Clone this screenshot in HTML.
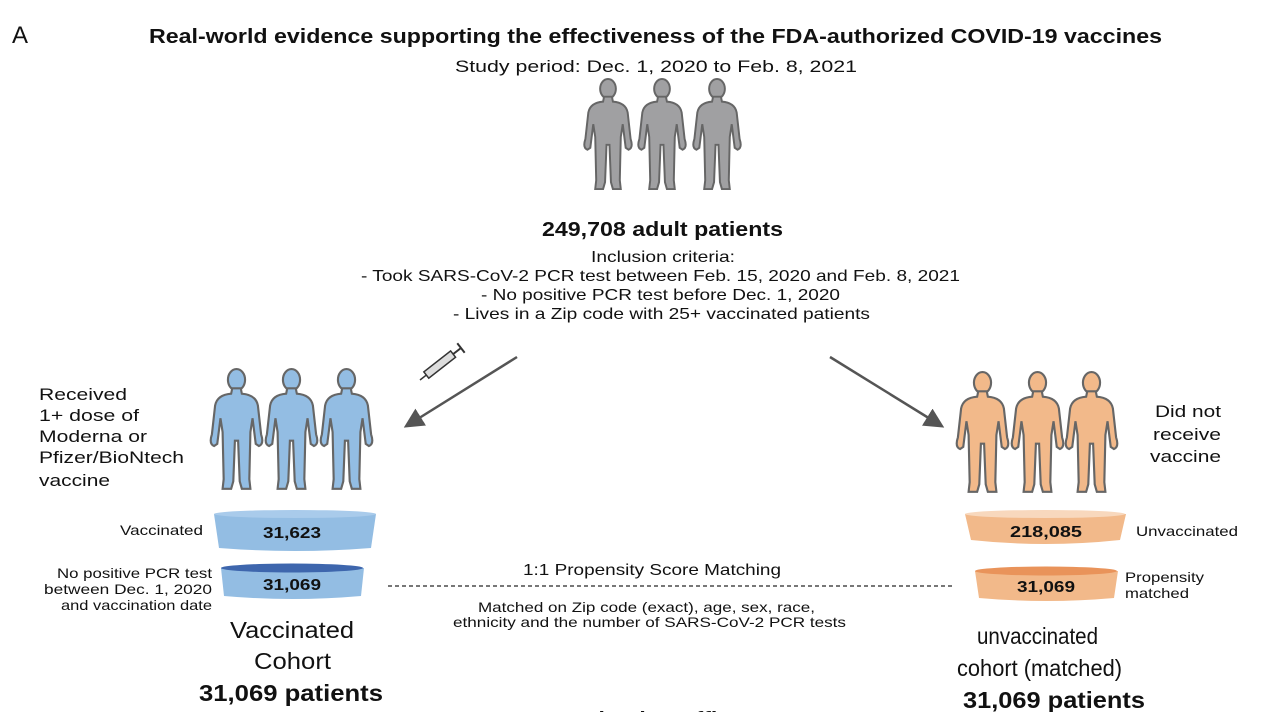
<!DOCTYPE html>
<html><head><meta charset="utf-8"><style>
body{margin:0;background:#fff;width:1275px;height:712px;overflow:hidden;font-family:"Liberation Sans",Arial,sans-serif}
text{font-family:"Liberation Sans",Arial,sans-serif;fill:#111}
</style></head><body>
<svg width="1275" height="712" viewBox="0 0 1275 712">
<defs>
<symbol id="person" viewBox="0 0 50 116">
<ellipse cx="25" cy="11" rx="8" ry="10"/>
<path d="M21,19 L29,19 L30,24 Q43,25 45,35 L48,62 Q51,71 46,73 L43,71 L40,47 L38,60 L37,104 L38,113 L30,113 L28,106 L26.5,68 L23.5,68 L22,106 L20,113 L12,113 L13,104 L12,60 L10,47 L7,71 L4,73 Q-1,71 2,62 L5,35 Q7,25 20,24 Z"/>
</symbol>
<marker id="ah" markerWidth="8" markerHeight="8" refX="6" refY="4" orient="auto"><path d="M0,0 L8,4 L0,8 Z" fill="#555"/></marker>
</defs>
<text x="12" y="43" font-size="24">A</text>
<text x="149" y="43" font-size="20" font-weight="bold" textLength="1013" lengthAdjust="spacingAndGlyphs">Real-world evidence supporting the effectiveness of the FDA-authorized COVID-19 vaccines</text>
<text x="455" y="72" font-size="17" textLength="402" lengthAdjust="spacingAndGlyphs">Study period: Dec. 1, 2020 to Feb. 8, 2021</text>
<g fill="#a0a0a2" stroke="#666" stroke-width="2">
<use href="#person" x="582" y="78" width="52" height="114"/>
<use href="#person" x="636" y="78" width="52" height="114"/>
<use href="#person" x="691" y="78" width="52" height="114"/>
</g>
<text x="542" y="236" font-size="20" font-weight="bold" textLength="241" lengthAdjust="spacingAndGlyphs">249,708 adult patients</text>
<g font-size="16">
<text x="591" y="262" textLength="144" lengthAdjust="spacingAndGlyphs">Inclusion criteria:</text>
<text x="361" y="281" textLength="599" lengthAdjust="spacingAndGlyphs">- Took SARS-CoV-2 PCR test between Feb. 15, 2020 and Feb. 8, 2021</text>
<text x="481" y="300" textLength="359" lengthAdjust="spacingAndGlyphs">- No positive PCR test before Dec. 1, 2020</text>
<text x="453" y="319" textLength="417" lengthAdjust="spacingAndGlyphs">- Lives in a Zip code with 25+ vaccinated patients</text>
</g>
<line x1="517" y1="357" x2="408" y2="425" stroke="#555" stroke-width="2.5" marker-end="url(#ah)"/>
<line x1="830" y1="357" x2="940" y2="425" stroke="#555" stroke-width="2.5" marker-end="url(#ah)"/>
<g transform="translate(420,380) rotate(-38)">
<rect x="8" y="-4" width="34" height="8" fill="#ddd" stroke="#333" stroke-width="1.5"/>
<line x1="0" y1="0" x2="8" y2="0" stroke="#333" stroke-width="1.5"/>
<line x1="42" y1="0" x2="52" y2="0" stroke="#333" stroke-width="2"/>
<line x1="52" y1="-6" x2="52" y2="6" stroke="#333" stroke-width="2"/>
</g>
<g fill="#93bde3" stroke="#666" stroke-width="2">
<use href="#person" x="209" y="368" width="55" height="124"/>
<use href="#person" x="264" y="368" width="55" height="124"/>
<use href="#person" x="319" y="368" width="55" height="124"/>
</g>
<g fill="#f2b98a" stroke="#666" stroke-width="2">
<use href="#person" x="955" y="371" width="55" height="124"/>
<use href="#person" x="1010" y="371" width="55" height="124"/>
<use href="#person" x="1064" y="371" width="55" height="124"/>
</g>
<g font-size="17">
<text x="39" y="400" textLength="88" lengthAdjust="spacingAndGlyphs">Received</text>
<text x="39" y="421" textLength="100" lengthAdjust="spacingAndGlyphs">1+ dose of</text>
<text x="39" y="442" textLength="108" lengthAdjust="spacingAndGlyphs">Moderna or</text>
<text x="39" y="463" textLength="145" lengthAdjust="spacingAndGlyphs">Pfizer/BioNtech</text>
<text x="39" y="486" textLength="71" lengthAdjust="spacingAndGlyphs">vaccine</text>
</g>
<g font-size="17">
<text x="1155" y="417" textLength="66" lengthAdjust="spacingAndGlyphs">Did not</text>
<text x="1153" y="440" textLength="68" lengthAdjust="spacingAndGlyphs">receive</text>
<text x="1150" y="462" textLength="71" lengthAdjust="spacingAndGlyphs">vaccine</text>
</g>
<g>
<path d="M214,514 L376,514 L371,548 Q295,554 219,548 Z" fill="#93bde3"/>
<ellipse cx="295" cy="514" rx="81" ry="4" fill="#a9cbeb"/>
<text x="263" y="538" font-size="16" font-weight="bold" textLength="58" lengthAdjust="spacingAndGlyphs">31,623</text>
</g>
<text x="120" y="535" font-size="14" textLength="83" lengthAdjust="spacingAndGlyphs">Vaccinated</text>
<g>
<path d="M221,568 L364,568 L361,596 Q292,602 224,596 Z" fill="#93bde3"/>
<ellipse cx="292" cy="568" rx="71" ry="4.5" fill="#3e66ad"/>
<text x="263" y="590" font-size="16" font-weight="bold" textLength="58" lengthAdjust="spacingAndGlyphs">31,069</text>
</g>
<g font-size="14">
<text x="57" y="578" textLength="155" lengthAdjust="spacingAndGlyphs">No positive PCR test</text>
<text x="44" y="594" textLength="168" lengthAdjust="spacingAndGlyphs">between Dec. 1, 2020</text>
<text x="61" y="610" textLength="151" lengthAdjust="spacingAndGlyphs">and vaccination date</text>
</g>
<g>
<path d="M965,514 L1126,514 L1120,540 Q1045,548 971,540 Z" fill="#f2b98a"/>
<ellipse cx="1045" cy="514" rx="80" ry="4" fill="#f8d8bd"/>
<text x="1010" y="537" font-size="16" font-weight="bold" textLength="72" lengthAdjust="spacingAndGlyphs">218,085</text>
</g>
<text x="1136" y="536" font-size="14" textLength="102" lengthAdjust="spacingAndGlyphs">Unvaccinated</text>
<g>
<path d="M975,571 L1118,571 L1114,598 Q1046,604 979,598 Z" fill="#f2b98a"/>
<ellipse cx="1046" cy="571" rx="71" ry="4.5" fill="#e9935a"/>
<text x="1017" y="592" font-size="16" font-weight="bold" textLength="58" lengthAdjust="spacingAndGlyphs">31,069</text>
</g>
<g font-size="14">
<text x="1125" y="582" textLength="79" lengthAdjust="spacingAndGlyphs">Propensity</text>
<text x="1125" y="598" textLength="64" lengthAdjust="spacingAndGlyphs">matched</text>
</g>
<line x1="388" y1="586" x2="952" y2="586" stroke="#777" stroke-width="2" stroke-dasharray="4,3"/>
<text x="523" y="575" font-size="16" textLength="258" lengthAdjust="spacingAndGlyphs">1:1 Propensity Score Matching</text>
<g font-size="14">
<text x="478" y="612" textLength="337" lengthAdjust="spacingAndGlyphs">Matched on Zip code (exact), age, sex, race,</text>
<text x="453" y="627" textLength="393" lengthAdjust="spacingAndGlyphs">ethnicity and the number of SARS-CoV-2 PCR tests</text>
</g>
<g>
<text x="230" y="638" font-size="23" textLength="124" lengthAdjust="spacingAndGlyphs">Vaccinated</text>
<text x="254" y="669" font-size="23" textLength="77" lengthAdjust="spacingAndGlyphs">Cohort</text>
<text x="199" y="701" font-size="23" font-weight="bold" textLength="184" lengthAdjust="spacingAndGlyphs">31,069 patients</text>
</g>
<g>
<text x="977" y="644" font-size="23" textLength="121" lengthAdjust="spacingAndGlyphs">unvaccinated</text>
<text x="957" y="676" font-size="23" textLength="165" lengthAdjust="spacingAndGlyphs">cohort (matched)</text>
<text x="963" y="708" font-size="23" font-weight="bold" textLength="182" lengthAdjust="spacingAndGlyphs">31,069 patients</text>
</g>
<text x="546" y="728" font-size="23" font-weight="bold">Vaccination Efficacy</text>
</svg>
</body></html>
